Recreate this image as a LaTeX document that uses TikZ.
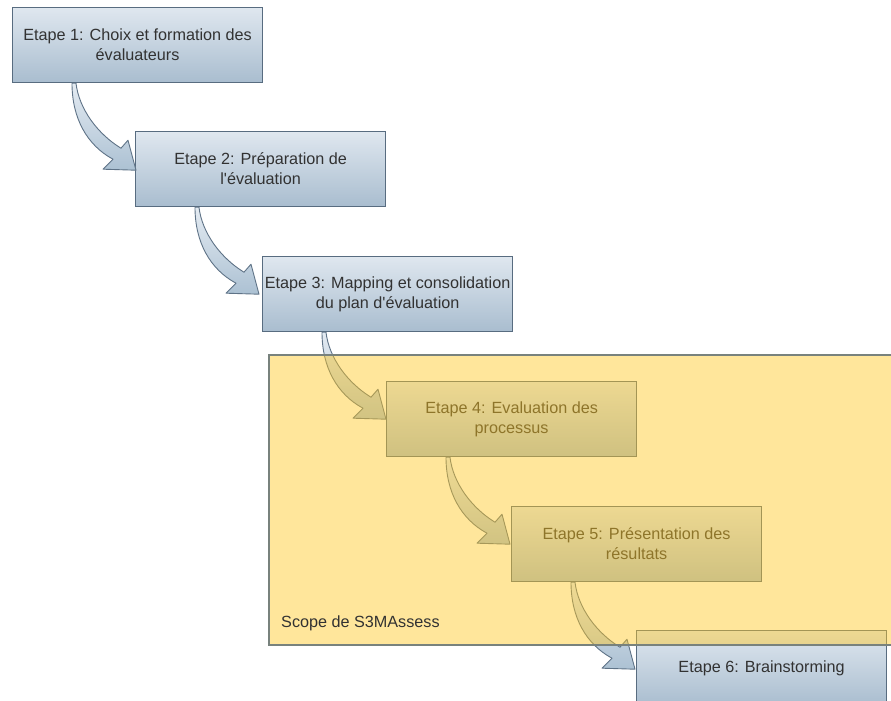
\documentclass[tikz,border=0pt]{standalone}
\usepackage{fontspec}
\newfontfamily\lab{Liberation Sans}
\usetikzlibrary{calc}
\definecolor{boxtop}{RGB}{223,231,239}
\definecolor{boxbot}{RGB}{169,189,207}
\definecolor{boxline}{RGB}{88,108,128}
\definecolor{txt}{RGB}{50,50,50}
\definecolor{arrtop}{RGB}{228,235,242}
\definecolor{arrbot}{RGB}{172,193,211}
\definecolor{arrline}{RGB}{95,115,135}
\definecolor{scopefill}{RGB}{255,199,33}
\definecolor{scopeline}{RGB}{120,130,125}
\begin{document}
\begin{tikzpicture}[x=1pt,y=-1pt,
  stepbox/.style={draw=boxline, line width=1.2pt, top color=boxtop, bottom color=boxbot,
    minimum width=250pt, minimum height=75pt, inner sep=0pt, anchor=north west,
    text=txt, align=center, font=\lab\fontsize{16.2pt}{20pt}\selectfont},
  flow/.style={draw=arrline, line width=0.9pt, top color=arrtop, bottom color=arrbot, line join=round}]
\useasboundingbox (0,0) rectangle (891,701);

% process steps
\node[stepbox] (b1) at (12,7)   {Etape 1: Choix et formation des\\évaluateurs};
\node[stepbox] (b2) at (135,131) {Etape 2: Préparation de\\l'évaluation};
\node[stepbox] (b3) at (262,256) {Etape 3: Mapping et consolidation\\du plan d'évaluation};
\node[stepbox] (b4) at (386,381) {Etape 4: Evaluation des\\processus};
\node[stepbox] (b5) at (511,506) {Etape 5: Présentation des\\résultats};
\node[stepbox] (b6) at (636,630) {Etape 6: Brainstorming};

% curved block arrows from the bottom of one step to the left side of the next
\foreach \a/\b in {b1/b2, b2/b3, b3/b4, b4/b5, b5/b6}{
  \path[flow, shift={($(\a.south west)+(60,0)$)}]
    (0,0) .. controls (0,35) and (15,62) .. (41,76) -- (31,86) -- (64,87)
    -- (56,57) -- (49,65) .. controls (26,51) and (7,26) .. (4,0) -- cycle;
}

% translucent scope area laid over steps 4 to 6
\node[draw=scopeline, line width=1.5pt, fill=scopefill, fill opacity=0.45, draw opacity=1,
  minimum width=640pt, minimum height=290pt, inner sep=0pt, anchor=north west]
  (scope) at (268,354) {};
\node[anchor=base west, inner sep=0pt, text=txt, font=\lab\fontsize{16.2pt}{20pt}\selectfont]
  (scopelabel) at (281,627) {Scope de S3MAssess};
\end{tikzpicture}
\end{document}
